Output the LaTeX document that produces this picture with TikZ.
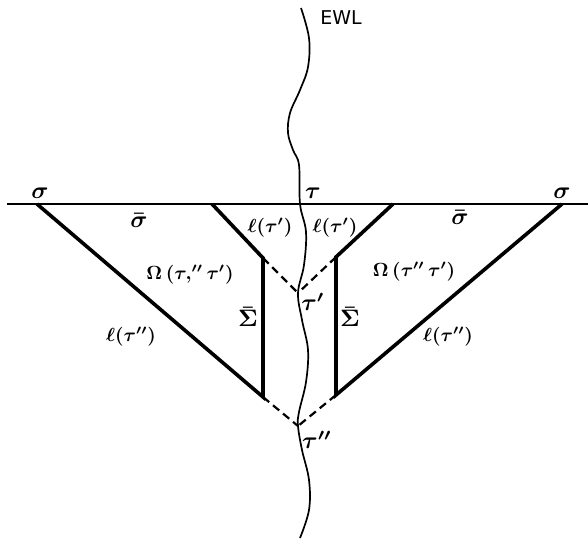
\documentclass[tikz,border=0pt]{standalone}
\usepackage{fontspec}
\setmainfont{DejaVu Sans}
\begin{document}
\begin{tikzpicture}[x=1pt,y=-1pt,
  thickline/.style={line width=3.6pt,line join=miter},
  thinline/.style={line width=1.3pt},
  wavy/.style={line width=1.7pt},
  dashline/.style={line width=2.2pt,dash pattern=on 8pt off 5pt},
  lbl/.style={inner sep=0pt,font=\fontsize{10}{12}\selectfont\boldmath,scale=1.9,transform shape},
  biglbl/.style={lbl,scale=1.25}]
\useasboundingbox (0,0) rectangle (588,543);
% key points
\coordinate (hl) at (7,204);
\coordinate (hr) at (588,204);
\coordinate (lo) at (37,204);
\coordinate (li) at (212,204);
\coordinate (ri) at (393,204);
\coordinate (ro) at (562,204);
\coordinate (lc) at (263,258);
\coordinate (rc) at (336,257);
\coordinate (lb) at (263,397);
\coordinate (rb) at (336,395);
\coordinate (tp) at (298,293);
\coordinate (tpp) at (298,426);
% horizontal line
\draw[thinline] (hl) -- (hr);
% thick lines
\draw[thickline] (lo) -- (lb) -- (lc) -- (li);
\draw[thickline] (ro) -- (rb) -- (rc) -- (ri);
% dashed
\draw[dashline] (lc) -- (tp);
\draw[dashline] (rc) -- (tp);
\draw[dashline] (lb) -- (tpp);
\draw[dashline] (rb) -- (tpp);
% world line
\draw[wavy] plot[smooth,tension=0.6] coordinates {(301,8) (309,38) (308,67) (300,90) (290,113) (288,133) (293,150) (299,165) (300,204) (306,232) (304,265) (298,293) (302,320) (308,350) (306,382) (299,412) (298,426) (302,450) (309,480) (309,510) (300,538)};
% labels
\node[lbl] (ewl) at (341,18) {EWL};
\node[biglbl] (tau) at (313,193) {$\tau$};
\node[biglbl] (sl) at (40,193) {$\sigma$};
\node[biglbl] (sr) at (562,193) {$\sigma$};
\node[biglbl] (sbl) at (139,220) {$\bar\sigma$};
\node[biglbl] (sbr) at (460,217) {$\bar\sigma$};
\node[lbl] (ell) at (270,228) {$\ell(\tau')$};
\node[lbl] (elr) at (335,228) {$\ell(\tau')$};
\node[lbl] (oml) at (190,275) {$\Omega\,(\tau,''\tau')$};
\node[lbl] (omr) at (414,272) {$\Omega\,(\tau''\,\tau')$};
\node[biglbl] (tpl) at (313,302) {$\tau'$};
\node[biglbl] (Sl) at (248,317) {$\bar\Sigma$};
\node[biglbl] (Sr) at (350,317) {$\bar\Sigma$};
\node[lbl] (ell2) at (131,337) {$\ell(\tau'')$};
\node[lbl] (elr2) at (448,337) {$\ell(\tau'')$};
\node[biglbl] (tppl) at (317,440) {$\tau''$};
\end{tikzpicture}
\end{document}
